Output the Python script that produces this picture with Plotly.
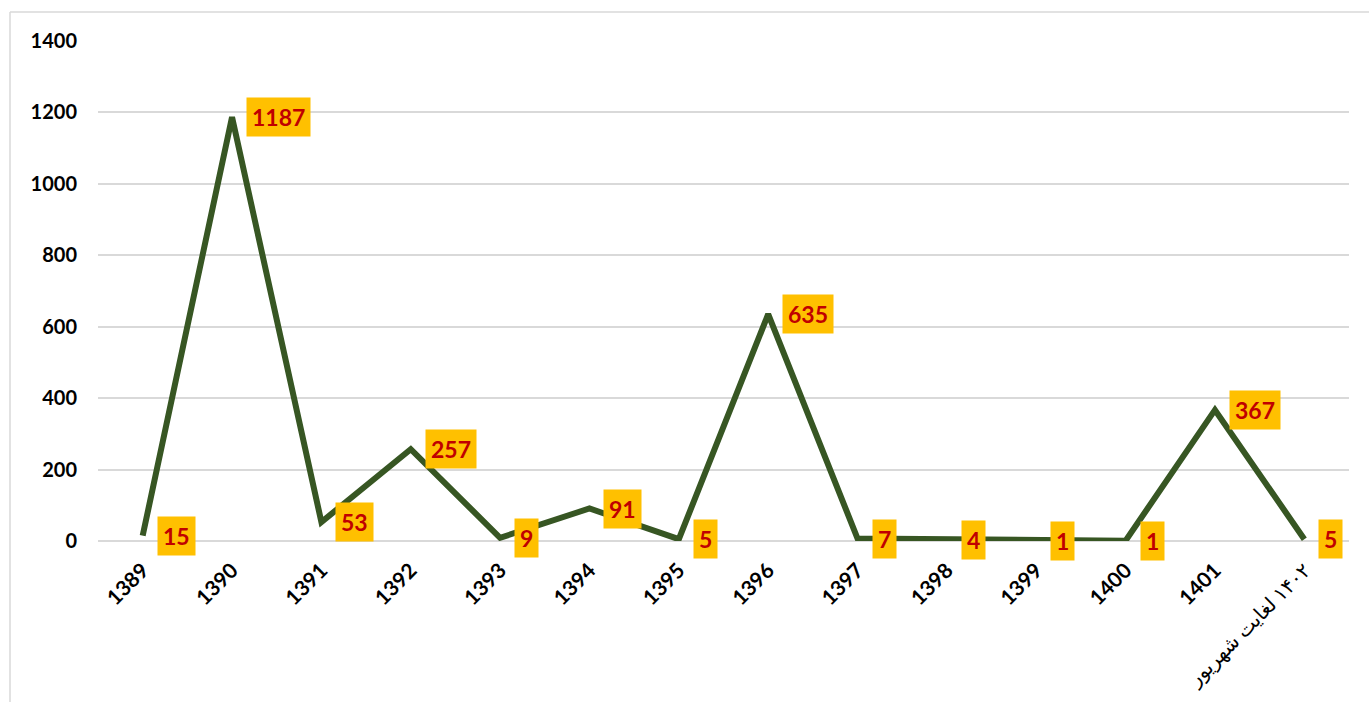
import plotly.graph_objects as go

categories = ["1389", "1390", "1391", "1392", "1393", "1394", "1395", "1396",
              "1397", "1398", "1399", "1400", "1401", "\u202B۱۴۰۲ لغایت شهریور\u202C"]
values = [15, 1187, 53, 257, 9, 91, 5, 635, 7, 4, 1, 1, 367, 5]
y_ticks = [0, 200, 400, 600, 800, 1000, 1200, 1400]

FONT = "Lato, 'DejaVu Sans', sans-serif"

fig = go.Figure()
fig.add_trace(go.Scatter(
    x=list(range(len(categories))), y=values, mode="lines",
    line=dict(color="#375623", width=6),
    hoverinfo="y",
))

for i, v in enumerate(values):
    fig.add_annotation(
        x=i, y=v, text=f"<b>{v}</b>", showarrow=False,
        xanchor="left", yanchor="middle", xshift=14,
        bgcolor="#FFC000", borderpad=5,
        font=dict(family=FONT, size=23, color="#C00000"),
    )

tick_text = [c if c.isdigit() else
             f"<span style='font-size:20px;font-weight:normal'>{c}</span>"
             for c in categories]

L, R, T, B = 98, 20, 41, 161
W, H = 1369, 702
pw, ph = W - L - R, H - T - B


def px_x(p):
    return (p - L) / pw


def px_y(p):
    return (H - B - p) / ph


border = dict(color="#D9D9D9", width=1.5)
fig.add_shape(type="line", xref="paper", yref="paper",
              x0=px_x(10), x1=px_x(1400), y0=px_y(12), y1=px_y(12),
              line=border, layer="below")
fig.add_shape(type="line", xref="paper", yref="paper",
              x0=px_x(10), x1=px_x(10), y0=px_y(12), y1=px_y(720),
              line=border, layer="below")

fig.update_layout(
    width=W, height=H,
    margin=dict(l=L, r=R, t=T, b=B),
    plot_bgcolor="white", paper_bgcolor="white",
    showlegend=False,
    font=dict(family=FONT, color="black"),
    xaxis=dict(
        range=[-0.5, len(categories) - 0.5],
        tickvals=list(range(len(categories))), ticktext=tick_text,
        tickangle=-45, showgrid=False, showline=False, ticks="",
        zeroline=False,
        tickfont=dict(family=FONT, size=21, color="black", weight="bold"),
        ticklabelstandoff=12, automargin=False,
    ),
    yaxis=dict(
        range=[0, 1400], tickvals=y_ticks, showgrid=True,
        gridcolor="#D9D9D9", gridwidth=1.5, zeroline=True,
        zerolinecolor="#D9D9D9", zerolinewidth=1.5, showline=False,
        ticks="", automargin=False,
        tickfont=dict(family=FONT, size=20, color="black", weight="bold"),
        ticklabelstandoff=20,
    ),
)

fig.write_html("out.html",
               config={"displayModeBar": False},
               post_script="document.body.style.margin='0';"
                           "document.body.style.overflow='hidden';")
